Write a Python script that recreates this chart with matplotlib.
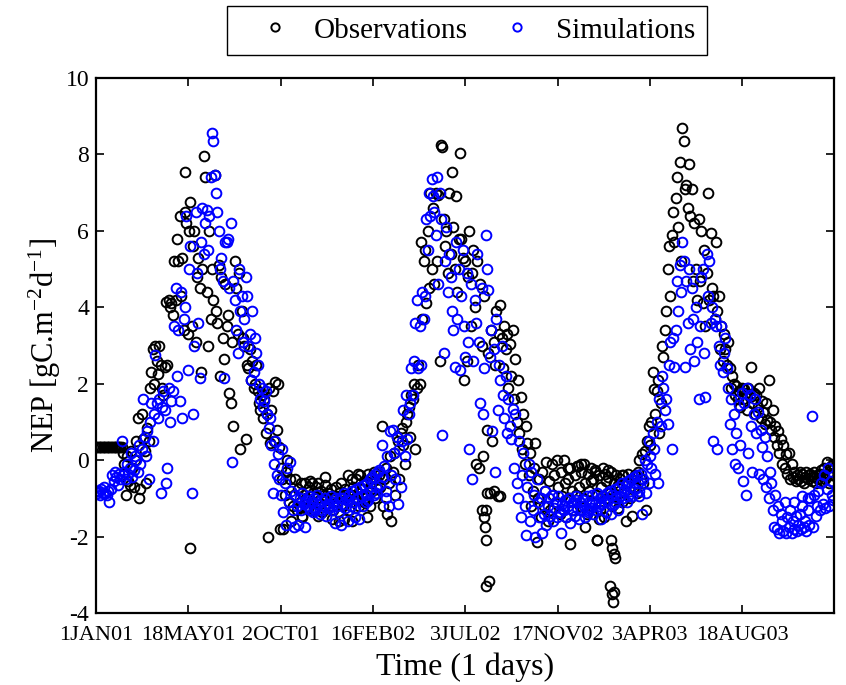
import numpy as np
from matplotlib import pyplot as plt

plt.rcParams['font.family'] = ['Liberation Serif', 'DejaVu Serif']
plt.rcParams['mathtext.fontset'] = 'custom'
plt.rcParams['mathtext.rm'] = 'Liberation Serif'
plt.rcParams['mathtext.default'] = 'regular'
plt.rcParams['axes.unicode_minus'] = False

tick_days = [0, 137, 274, 411, 548, 685, 822, 959]
tick_labels = ['1JAN01', '18MAY01', '2OCT01', '16FEB02',
               '3JUL02', '17NOV02', '3APR03', '18AUG03']
y_ticks = [-4, -2, 0, 2, 4, 6, 8, 10]

# values read every second day, ten per row (20 days)
obs_nep = [
    .35, .35, .35, .35, .35, .35, .35, .35, .35, .35,
    .35, .35, .35, .35, .35, .35, .35, .35, .35, .35,
    .2, -.1, -.9, .1, -.55, -.65, .25, -.2, -.7, .0,
    .5, 1.1, -1.0, -.75, 1.2, .55, .25, -.6, .85, .5,
    1.9, 2.3, 2.9, 2.0, 3.0, 2.6, 2.25, 3.0, 2.5, 1.9,
    1.7, 2.45, 4.15, 2.5, 4.2, 4.0, 4.1, 3.8, 5.2, 4.2,
    5.8, 5.2, 6.4, 4.3, 5.3, 3.4, 6.5, 6.2, 3.3, 6.0,
    6.75, 3.5, 5.6, 6.0, 3.1, 4.8, 5.3, 4.5, 2.3, 5.0,
    7.95, 7.4, 4.4, 3.0, 6.0, 3.7, 5.0, 4.2, 7.45, 3.9,
    3.6, 5.1, 2.2, 4.8, 3.2, 2.65, 4.6, 3.5, 3.8, 1.75,
    1.5, 3.1, .9, 5.2, 4.5, 3.3, 4.9, .3, 3.9, 3.2,
    3.0, .55, 2.5, 2.4, 2.9, 2.1, 2.6, 1.9, 2.0, 2.5,
    1.8, 1.5, 1.3, 1.7, 1.1, 1.6, .7, 1.2, 1.9, .45,
    1.3, 1.8, .5, 2.05, .8, 2.0, .35, -.2, -.5, -1.8,
    -.9, -.3, 0, -1.1, -.5, -1.6, -1.2, -.9, -.5, -1.3,
    -.75, -1.2, -.6, -1.45, -.9, -.6, -1.0, -1.25, -.7, -.55,
    -1.1, -.85, -1.3, -.7, -1.0, -.6, -1.15, -.8, -1.35, -.9,
    -.65, -1.05, -.85, -1.2, -.75, -1.0, -1.3, -.95, -.7, -1.1,
    -.85, -1.0, -.6, -1.2, -1.55, -.75, -1.05, -.4, -1.3, -.9,
    -1.6, -.7, -1.0, -.5, -.85, -1.2, -.4, -.95, -.65, -1.1,
    -.55, -.9, -.35, -1.2, -.6, -.8, -.3, -1.0, -.5, -.75,
    -.4, -.7, .9, -1.2, -.5, -.2, -1.4, -.6, .1, -1.6,
    -.3, .2, -.9, .6, .5, -.5, .7, .85, .4, -.1,
    1.0, 1.2, 1.4, .6, 1.7, 1.6, 2.0, .3, 1.9, 2.5,
    2.0, 5.7, 3.7, 5.2, 5.5, 4.1, 6.0, 4.5, 7.0, 5.0,
    6.6, 4.6, 7.0, 5.2, 6.95, 2.6, 8.25, 8.2, 6.3, 5.6,
    6.0, 4.9, 7.0, 5.4, 7.55, 6.1, 5.0, 6.9, 4.4, 5.8,
    8.05, 5.8, 5.3, 2.1, 5.2, 2.6, 4.8, 6.0, 3.5, 4.9,
    5.5, 4.0, -.1, 5.2, -.2, 4.6, 3.0, .1, 4.3, -1.3,
    .8, 2.8, -.85, 3.4, .5, 3.1, 2.5, 3.9, -.95, 3.3,
    4.05, 3.2, 2.4, 3.5, 2.9, 3.3, 1.9, 3.05, 2.2, 3.4,
    1.6, 2.65, 1.0, 2.1, .7, 1.65, .3, 1.2, -.1, .9,
    .45, -.4, .2, -1.2, -.8, -.2, .45, -2.15, -1.0, -.5,
    -1.5, -.3, -1.2, -.8, -.05, -1.6, -.55, -1.3, -.1, -.9,
    -.4, -1.1, 0, -.7, -1.4, -.3, -.95, .0, -.6, -1.5,
    -.5, -1.0, -.2, -.8, -1.3, -.4, -.9, -.15, -.7, -1.2,
    -.3, -1.0, -.1, -.6, -1.4, -.35, -.8, -.2, -1.1, -.5,
    -.25, -.9, -2.1, -.4, -1.3, -.7, -.2, -1.5, -.55, -1.0,
    -.45, -.85, -.3, -1.2, -.6, -.95, -.4, -1.25, -.7, -.5,
    -1.1, -.4, -.8, -1.6, -.6, -.35, -1.0, -.5, -1.45, -.7,
    -.4, -.85, -.3, .0, -.5, .15, -.6, .25, -1.3, .5,
    .9, .4, 1.0, 2.3, 1.85, 1.2, 1.8, 2.1, .7, 1.5,
    3.0, 2.7, 3.4, 3.9, 5.0, 5.6, 4.3, 5.9, 6.5, 5.7,
    6.85, 7.4, 6.1, 7.8, 5.2, 8.7, 8.35, 7.1, 7.2, 6.6,
    7.75, 6.4, 7.1, 4.7, 6.2, 5.0, 4.2, 6.3, 4.7, 6.0,
    4.1, 5.5, 3.5, 4.9, 7.0, 4.2, 5.95, 4.5, 4.3, 3.7,
    5.7, 3.9, 4.3, 2.9, 3.5, 2.6, 3.3, 2.9, 2.5, 3.1,
    2.4, 1.9, 2.2, 2.0, 1.7, 1.95, 1.6, 1.8, 1.4, 1.9,
    1.6, 1.85, 1.75, 1.3, 1.9, 1.65, 2.45, 1.5, 1.75, 1.2,
    1.7, 1.4, 1.9, 1.1, 1.55, 1.25, .95, 1.5, 1.05, 2.1,
    1.0, .8, 1.3, .6, .9, .4, .75, .2, .55, -.1,
    .4, -.2, .15, -.35, .2, -.5, -.1, -.45, -.3, -.55,
    -.4, -.5, -.3, -.55, -.35, -.6, -.45, -.3, -.5, -.4,
    -.35, -.55, -.45, -.3, -.6, -.4, -.5, -.35, -.25, -.55,
    -.2, -.5, -.05, -.35, -.6, -.15, -.4, -.1,
]

sim_nep = [
    -.8, -.85, -.8, -.9, -.75, -.85, -.7, -.85, -.9, -.8,
    -1.1, -.75, -.4, -.55, -.3, -.45, -.65, -.35, -.5, .5,
    -.4, -.3, -.5, -.1, -.35, -.2, .2, -.45, -.25, .1,
    0, -.3, .4, -.1, .3, 1.6, .6, .1, .75, -.5,
    1.0, 1.5, .5, 1.2, 2.75, 1.5, 1.1, 1.6, -.85, 1.4,
    1.8, 1.3, -.6, -.2, 1.9, 1.0, 1.55, 1.8, 3.5, 4.5,
    2.2, 3.4, 1.55, 4.4, 1.1, 3.7, 4.0, 6.4, 2.35, 5.0,
    5.6, -.87, 1.2, 3.0, 6.5, 4.9, 3.6, 2.15, 5.7, 6.6,
    5.4, 6.2, 6.55, 5.5, 6.4, 7.4, 8.55, 8.35, 7.45, 7.0,
    6.5, 6.0, 5.0, 5.3, 4.7, 2.15, 5.7, 5.7, 5.8, 4.5,
    6.2, -.05, 4.7, 4.2, 3.4, 2.8, 5.0, 3.9, 4.3, 3.1,
    3.7, 4.8, 4.3, 3.0, 3.3, 2.1, 3.9, 2.3, 3.2, 2.8,
    2.5, 2.0, 1.6, 1.9, 1.4, 1.55, 1.8, 1.2, .85, 1.1,
    .4, -.85, -.1, .5, -.4, .15, -.5, -.9, .3, -1.35,
    -.6, -1.7, -.2, -1.1, -.05, -.8, -1.3, -1.75, -.9, -1.2,
    -1.7, -1.0, -1.3, -.85, -1.15, -1.75, -1.05, -1.2, -.95, -1.3,
    -1.1, -1.35, -1.0, -1.25, -.9, -1.15, -1.4, -1.05, -1.3, -1.2,
    -1.0, -1.45, -1.15, -1.25, -.95, -1.3, -1.1, -1.65, -1.0, -1.2,
    -1.35, -1.0, -1.7, -1.15, -.85, -1.25, -1.05, -1.6, -.9, -1.2,
    -.8, -1.1, -1.5, -.75, -1.0, -1.55, -.7, -.95, -1.2, -.65,
    -.9, -.6, -1.05, -.5, -.8, -.45, -.9, -.35, -.7, -.3,
    -.25, -.65, .4, -.45, -.15, -.8, .1, -1.2, .75, -.4,
    .8, .2, -.5, .6, -1.15, .3, -.7, .5, 1.3, .1,
    1.7, .55, 1.2, 1.5, 2.4, 1.7, 2.6, 3.6, 4.2, 2.4,
    3.5, 2.5, 4.4, 3.7, 4.3, 6.3, 5.5, 7.0, 6.4, 7.35,
    6.9, 6.5, 5.9, 7.4, 4.6, 7.0, 6.3, .65, 2.8, 5.2,
    6.1, 4.4, 5.4, 4.8, 3.9, 3.4, 2.45, 5.7, 3.7, 5.0,
    2.35, 4.3, 5.5, 3.5, 2.7, 4.9, 3.1, .3, 4.6, -.5,
    2.6, 4.2, 3.6, 5.4, 3.1, 1.5, 4.5, 1.2, 2.4, 5.9,
    5.0, 4.45, 2.7, 3.4, .75, 2.9, -.3, 3.7, 1.3, 2.5,
    2.1, 3.0, 1.7, 1.1, 2.2, .7, 1.6, .9, .55, 1.35,
    -.2, 1.2, -.6, -1.0, .5, -1.5, -.4, .2, -1.2, -1.95,
    -.7, -.1, -1.6, -.3, -1.3, -.9, -2.0, -.5, -1.1, -1.5,
    -1.0, -1.9, -1.4, -.8, -1.7, -1.2, -1.0, -1.45, -.9, -1.6,
    -1.25, -1.1, -1.5, -.95, -1.35, -1.9, -1.15, -1.3, -1.05, -1.5,
    -1.2, -1.0, -1.65, -1.3, -1.1, -1.45, -.95, -1.25, -1.55, -1.1,
    -1.3, -1.05, -1.2, -1.5, -.95, -1.35, -1.1, -1.25, -.9, -1.4,
    -1.15, -1.3, -.85, -1.2, -1.0, -1.55, -.95, -1.1, -1.35, -.85,
    -1.05, -.8, -1.4, -.9, -1.15, -.75, -1.0, -1.3, -.7, -.95,
    -.6, -1.0, -.8, -.65, -1.1, -.55, -.8, -.5, -.95, -.45,
    -.75, -.4, -.6, -.95, -.35, -1.4, -.5, .0, -.85, -.1,
    .5, .1, -.2, .7, .3, -.35, 1.0, -.6, 1.6, .9,
    2.2, 1.9, 1.3, 1.6, .95, 2.5, 3.1, .3, 3.2, 2.45,
    3.4, 4.7, 3.9, 5.1, 4.4, 5.7, 5.2, 2.45, 4.7, 3.6,
    5.0, 2.9, 4.5, 3.7, 2.6, 4.0, 3.1, 1.6, 3.5, 4.8,
    5.0, 2.8, 1.65, 5.4, 4.3, 5.2, 3.6, 4.0, .5, 3.7,
    3.5, .3, 3.0, 2.5, 3.5, 2.3, 2.8, 3.2, 2.4, 1.9,
    .95, 1.6, .3, 1.2, -.1, .7, -.2, 1.45, .4, 1.75,
    -.55, 1.5, -.9, 1.9, .2, 1.7, .9, -.3, 1.2, 1.6,
    .7, 1.25, -.35, .8, .35, -.5, .6, -.7, .1, -1.0,
    -.3, -.6, -1.3, -1.75, -.9, -1.8, -1.2, -1.9, -1.4, -1.6,
    -1.85, -1.1, -1.9, -1.5, -1.75, -1.3, -1.9, -1.6, -1.8, -1.45,
    -1.85, -1.7, -1.4, -1.8, -1.2, -1.75, -1.6, -1.85, -1.3, -1.7,
    -1.0, 1.15, -1.75, -.9, -1.45, -1.2, -.8, -1.3, -.6, -1.15,
    -.4, -1.25, -.75, -.2, -1.2, -.55, -.9, -1.05,
]

# second value set: the days in the dense winter band and the far outliers
obs_extra_days = [139, 255, 273, 132, 573, 575, 577, 578, 578, 583, 580, 590,
                  600, 703, 743, 763, 765, 767, 769, 764, 766, 768, 770, 320,
                  340, 360, 380, 395, 409, 700, 720, 740, 760, 780, 810, 715,
                  735, 755, 775, 800, 305, 330, 350, 370, 388, 402, 726, 746]
obs_extra_nep = [-2.3, -2.0, -1.8, 7.55, -1.3, -1.5, -1.75, -2.1, -3.3, -3.15,
                 -.85, -.8, -.95, -2.2, -2.1, -3.3, -3.5, -3.7, -3.45, -2.1,
                 -2.3, -2.45, -2.55, -.6, -.45, -1.6, -.5, -.75, -.45, -.2,
                 -.1, -.3, -.25, -.4, -.5, -.15, -.55, -.35, -.65, -.6, -1.5,
                 -1.45, -1.55, -.9, -.35, -1.5, -1.75, -1.55]
sim_extra_days = [310, 325, 345, 365, 385, 400, 415, 430, 695, 712, 730, 750,
                  770, 790, 805, 820, 1035, 1048, 1056]
sim_extra_nep = [-1.1, -1.3, -1.2, -1.0, -1.25, -1.1, -.85, -1.0, -1.2, -1.05,
                 -1.3, -1.15, -1.1, -.95, -.8, -.6, -1.1, -.95, -1.0]

obs_days = list(range(0, 2 * len(obs_nep), 2)) + obs_extra_days
sim_days = list(range(0, 2 * len(sim_nep), 2)) + sim_extra_days
obs_vals = obs_nep + obs_extra_nep
sim_vals = sim_nep + sim_extra_nep

fig = plt.figure(figsize=(8.46, 6.85), dpi=100)
ax = fig.add_axes([96 / 846, 1 - 613 / 685, (834 - 96) / 846, (613 - 78) / 685])

line_obs, = ax.plot(obs_days, obs_vals, 'o', mfc='none', mec='black',
                    ms=7, mew=1.4, label='Observations')
line_sim, = ax.plot(sim_days, sim_vals, 'o', mfc='none', mec='#0000ff',
                    ms=7, mew=1.4, label='Simulations')

ax.set_xlim(0, 1095)
ax.set_ylim(-4, 10)
ax.set_xticks(tick_days)
ax.set_xticklabels(tick_labels, fontsize=16)
ax.set_yticks(y_ticks)
ax.tick_params(axis='y', labelsize=17, direction='in', right=True,
               length=6, width=1.2, pad=5)
ax.tick_params(axis='x', direction='in', top=True, length=6, width=1.2, pad=9)
for spine in ax.spines.values():
    spine.set_linewidth(1.6)

ax.set_xlabel('Time (1 days)', fontsize=23, labelpad=6)
ax.set_ylabel('NEP [gC.m$^{-2}$d$^{-1}$]', fontsize=22, labelpad=2)

fig.legend(handles=[line_obs, line_sim], ncol=2, loc='upper left',
           bbox_to_anchor=(227 / 846, 1 - 6 / 685), fontsize=21, fancybox=False,
           edgecolor='black', framealpha=1, borderaxespad=0, columnspacing=.41,
           handlelength=2.55, handletextpad=.06, markerscale=.85, borderpad=.38)

fig.savefig('out.png', dpi=100)
